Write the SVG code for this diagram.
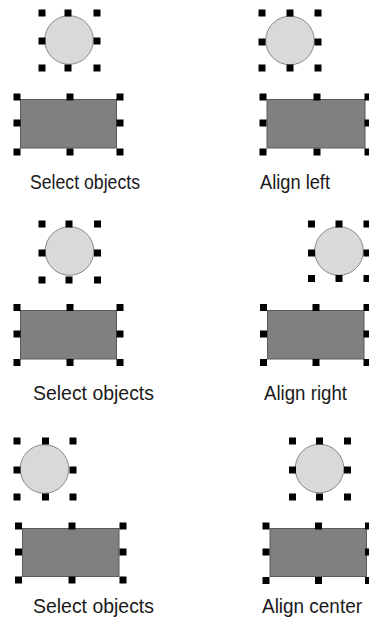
<svg xmlns="http://www.w3.org/2000/svg" xmlns:xlink="http://www.w3.org/1999/xlink" width="369" height="624" viewBox="0 0 369 624">
  <style>
    .circ { fill: #d9d9d9; stroke: #8a8a8a; stroke-width: 1; }
    .box { fill: #808080; stroke: #5a5a5a; stroke-width: 1; }
    .lbl { font-family: "Liberation Sans", Arial, sans-serif; font-size: 21px; fill: #1a1a1a; }
  </style>
  <defs>
    <rect id="h" x="-3.5" y="-3.5" width="7" height="7" fill="#000"/>
  </defs>
  <rect width="369" height="624" fill="#fff"/>

  <!-- Panel 1: Select objects -->
  <g id="panel-select-1">
    <g id="circle-1">
      <circle class="circ" cx="69" cy="40" r="24.3"/>
      <use xlink:href="#h" x="42" y="13"/><use xlink:href="#h" x="68" y="13"/><use xlink:href="#h" x="97" y="13"/>
      <use xlink:href="#h" x="42" y="41"/><use xlink:href="#h" x="97" y="41"/>
      <use xlink:href="#h" x="42" y="68"/><use xlink:href="#h" x="68" y="68"/><use xlink:href="#h" x="97" y="68"/>
    </g>
    <g id="rect-1">
      <rect class="box" x="20.5" y="99.5" width="96" height="48.5"/>
      <use xlink:href="#h" x="17" y="97"/><use xlink:href="#h" x="70" y="97"/><use xlink:href="#h" x="120" y="97"/>
      <use xlink:href="#h" x="17" y="123"/><use xlink:href="#h" x="120" y="123"/>
      <use xlink:href="#h" x="17" y="152"/><use xlink:href="#h" x="70" y="152"/><use xlink:href="#h" x="120" y="152"/>
    </g>
    <text class="lbl" x="30" y="189" textLength="110" lengthAdjust="spacingAndGlyphs">Select objects</text>
  </g>

  <!-- Panel 2: Align left -->
  <g id="panel-align-left">
    <g id="circle-2">
      <circle class="circ" cx="290" cy="40.5" r="24.3"/>
      <use xlink:href="#h" x="262" y="13"/><use xlink:href="#h" x="290" y="13"/><use xlink:href="#h" x="318" y="13"/>
      <use xlink:href="#h" x="262" y="42"/><use xlink:href="#h" x="318" y="42"/>
      <use xlink:href="#h" x="262" y="68"/><use xlink:href="#h" x="290" y="68"/><use xlink:href="#h" x="318" y="68"/>
    </g>
    <g id="rect-2">
      <rect class="box" x="267" y="99.5" width="98" height="48.5"/>
      <use xlink:href="#h" x="263" y="97"/><use xlink:href="#h" x="317" y="97"/><use xlink:href="#h" x="368" y="97"/>
      <use xlink:href="#h" x="263" y="123"/><use xlink:href="#h" x="368" y="123"/>
      <use xlink:href="#h" x="263" y="152"/><use xlink:href="#h" x="317" y="152"/><use xlink:href="#h" x="368" y="152"/>
    </g>
    <text class="lbl" x="260" y="189" textLength="70" lengthAdjust="spacingAndGlyphs">Align left</text>
  </g>

  <!-- Panel 3: Select objects -->
  <g id="panel-select-2">
    <g id="circle-3">
      <circle class="circ" cx="69.5" cy="251" r="24.3"/>
      <use xlink:href="#h" x="42" y="224"/><use xlink:href="#h" x="69" y="224"/><use xlink:href="#h" x="97.5" y="224"/>
      <use xlink:href="#h" x="42" y="253"/><use xlink:href="#h" x="97.5" y="253"/>
      <use xlink:href="#h" x="42" y="280"/><use xlink:href="#h" x="69" y="280"/><use xlink:href="#h" x="97.5" y="280"/>
    </g>
    <g id="rect-3">
      <rect class="box" x="20.5" y="310.5" width="96" height="48.5"/>
      <use xlink:href="#h" x="17" y="307.5"/><use xlink:href="#h" x="70" y="307.5"/><use xlink:href="#h" x="120" y="307.5"/>
      <use xlink:href="#h" x="17" y="334"/><use xlink:href="#h" x="120" y="334"/>
      <use xlink:href="#h" x="17" y="362.5"/><use xlink:href="#h" x="70" y="362.5"/><use xlink:href="#h" x="120" y="362.5"/>
    </g>
    <text class="lbl" x="33" y="400" textLength="121" lengthAdjust="spacingAndGlyphs">Select objects</text>
  </g>

  <!-- Panel 4: Align right -->
  <g id="panel-align-right">
    <g id="circle-4">
      <circle class="circ" cx="339" cy="251" r="24.3"/>
      <use xlink:href="#h" x="311.5" y="224"/><use xlink:href="#h" x="339" y="224"/><use xlink:href="#h" x="367" y="224"/>
      <use xlink:href="#h" x="311.5" y="253"/><use xlink:href="#h" x="367" y="253"/>
      <use xlink:href="#h" x="311.5" y="278.5"/><use xlink:href="#h" x="339" y="278.5"/><use xlink:href="#h" x="367" y="278.5"/>
    </g>
    <g id="rect-4">
      <rect class="box" x="267.5" y="310.5" width="96.5" height="48.5"/>
      <use xlink:href="#h" x="263.5" y="307.5"/><use xlink:href="#h" x="316" y="307.5"/><use xlink:href="#h" x="367" y="307.5"/>
      <use xlink:href="#h" x="263.5" y="334"/><use xlink:href="#h" x="367" y="334"/>
      <use xlink:href="#h" x="263.5" y="362.5"/><use xlink:href="#h" x="316" y="362.5"/><use xlink:href="#h" x="367" y="362.5"/>
    </g>
    <text class="lbl" x="264" y="400" textLength="83" lengthAdjust="spacingAndGlyphs">Align right</text>
  </g>

  <!-- Panel 5: Select objects -->
  <g id="panel-select-3">
    <g id="circle-5">
      <circle class="circ" cx="44.5" cy="469" r="24.3"/>
      <use xlink:href="#h" x="17" y="441"/><use xlink:href="#h" x="45.5" y="441"/><use xlink:href="#h" x="73" y="441"/>
      <use xlink:href="#h" x="17" y="470"/><use xlink:href="#h" x="73" y="470"/>
      <use xlink:href="#h" x="17" y="497"/><use xlink:href="#h" x="45.5" y="497"/><use xlink:href="#h" x="73" y="497"/>
    </g>
    <g id="rect-5">
      <rect class="box" x="22.5" y="528.5" width="96.5" height="48"/>
      <use xlink:href="#h" x="18.5" y="526"/><use xlink:href="#h" x="72" y="526"/><use xlink:href="#h" x="123" y="526"/>
      <use xlink:href="#h" x="18.5" y="552"/><use xlink:href="#h" x="123" y="552"/>
      <use xlink:href="#h" x="18.5" y="580"/><use xlink:href="#h" x="72" y="580"/><use xlink:href="#h" x="123" y="580"/>
    </g>
    <text class="lbl" x="33" y="613" textLength="121" lengthAdjust="spacingAndGlyphs">Select objects</text>
  </g>

  <!-- Panel 6: Align center -->
  <g id="panel-align-center">
    <g id="circle-6">
      <circle class="circ" cx="319.5" cy="468.5" r="24.3"/>
      <use xlink:href="#h" x="292.5" y="441"/><use xlink:href="#h" x="319.5" y="441"/><use xlink:href="#h" x="347.5" y="441"/>
      <use xlink:href="#h" x="292.5" y="470"/><use xlink:href="#h" x="347.5" y="470"/>
      <use xlink:href="#h" x="292.5" y="497"/><use xlink:href="#h" x="319.5" y="497"/><use xlink:href="#h" x="347.5" y="497"/>
    </g>
    <g id="rect-6">
      <rect class="box" x="270" y="528.5" width="96.5" height="48"/>
      <use xlink:href="#h" x="266" y="526"/><use xlink:href="#h" x="318.5" y="526"/><use xlink:href="#h" x="368.5" y="526"/>
      <use xlink:href="#h" x="266" y="552"/><use xlink:href="#h" x="368.5" y="552"/>
      <use xlink:href="#h" x="266" y="580.5"/><use xlink:href="#h" x="318.5" y="580.5"/><use xlink:href="#h" x="368.5" y="580.5"/>
    </g>
    <text class="lbl" x="262" y="613" style="font-size:19.5px" textLength="100" lengthAdjust="spacingAndGlyphs">Align center</text>
  </g>
</svg>
